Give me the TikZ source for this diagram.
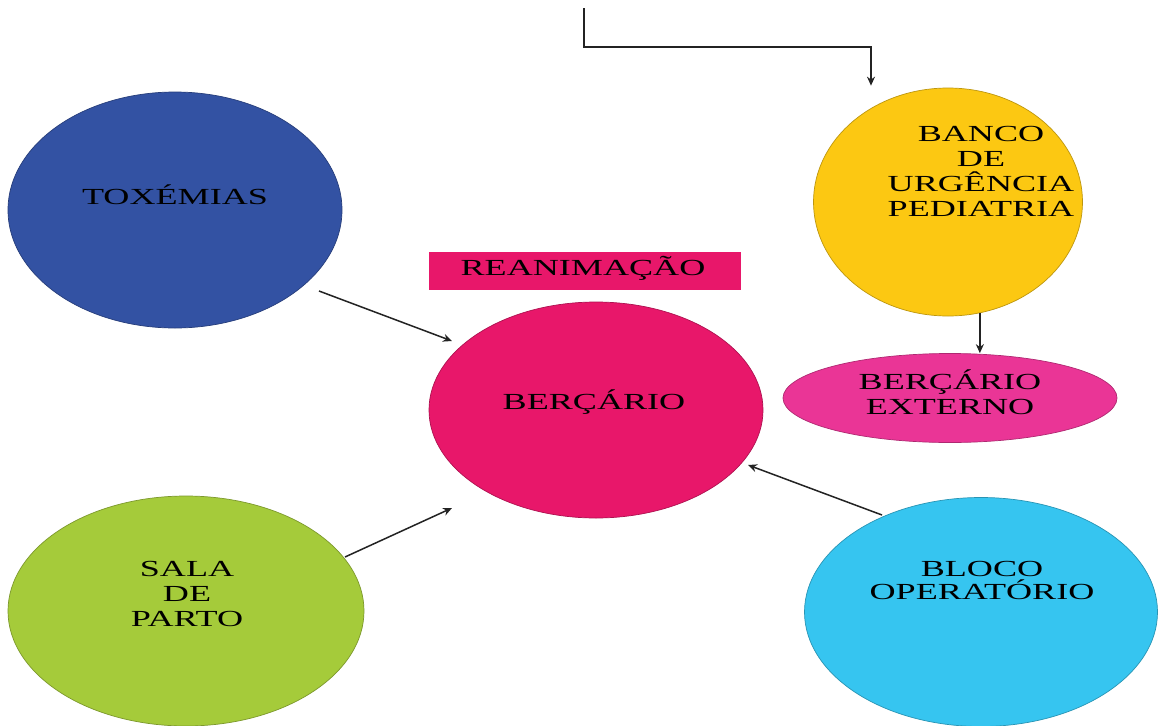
\documentclass[tikz,border=0pt]{standalone}
\usepackage{fontspec}
\setmainfont{Liberation Serif}
\newfontfamily\widefont[FakeStretch=1.57]{Liberation Serif}
\usetikzlibrary{shapes.geometric,arrows.meta}
\definecolor{cblue}{RGB}{51,82,163}
\definecolor{cyellow}{RGB}{252,200,18}
\definecolor{cmag}{RGB}{232,23,106}
\definecolor{cpink}{RGB}{234,53,150}
\definecolor{cgreen}{RGB}{165,203,58}
\definecolor{ccyan}{RGB}{54,197,240}
\definecolor{linec}{RGB}{35,35,35}
\begin{document}
\begin{tikzpicture}[x=1pt,y=-1pt,
  blob/.style={ellipse,inner sep=0pt,draw=#1!75!black,line width=0.7pt,fill=#1},
  lbl/.style={font=\widefont\fontsize{23}{25}\selectfont,align=center,text=black,inner sep=0pt},
  arr/.style={draw=linec,line width=1.5pt,-{Stealth[length=9pt,width=8pt]}}]
\useasboundingbox[fill=white] (0,0) rectangle (1160,726);
% shapes
\node[blob=cblue,minimum width=334pt,minimum height=236pt] (tox) at (175,210) {};
\node[blob=cyellow,minimum width=269pt,minimum height=228pt] (banco) at (948,202) {};
\node[fill=cmag,minimum width=312pt,minimum height=38pt,inner sep=0pt] (rean) at (585,271) {};
\node[blob=cmag,minimum width=334pt,minimum height=216pt] (ber) at (596,410) {};
\node[blob=cpink,minimum width=334pt,minimum height=89pt] (ext) at (950,398) {};
\node[blob=cgreen,minimum width=356pt,minimum height=230pt] (sala) at (186,611) {};
\node[blob=ccyan,minimum width=353pt,minimum height=229pt] (bloco) at (981,612) {};
% texts
\node[lbl,anchor=base] (toxT) at (175,204) {TOXÉMIAS};
\node[lbl] (bancoT) at (981,171.5) {BANCO\\DE\\URGÊNCIA\\PEDIATRIA};
\node[lbl,anchor=base] (reanT) at (583,275) {REANIMAÇÃO};
\node[lbl,anchor=base] (berT) at (594,409.6) {BERÇÁRIO};
\node[lbl] (extT) at (950,392) {BERÇÁRIO\\EXTERNO};
\node[lbl] (salaT) at (187,593.5) {SALA\\DE\\PARTO};
\node[lbl] (blocoT) at (982,580.5) {BLOCO\\[-2pt]OPERATÓRIO};
% connector ends
\coordinate (src) at (584,8);
\coordinate (bend) at (584,47);
\coordinate (toxOut) at (319,291);
\coordinate (berInA) at (452,341);
\coordinate (salaOut) at (345,557);
\coordinate (berInB) at (452,508);
\coordinate (blocoOut) at (882,515);
\coordinate (berInC) at (748,465);
% connectors
\draw[arr] (src) -- (bend) -| ([xshift=-77pt,yshift=2pt]banco.north);
\draw[arr] (toxOut) -- (berInA);
\draw[arr] (salaOut) -- (berInB);
\draw[arr] (blocoOut) -- (berInC);
\draw[arr] (banco.-74.4) -- (banco.-74.4 |- ext.north);
\end{tikzpicture}
\end{document}
